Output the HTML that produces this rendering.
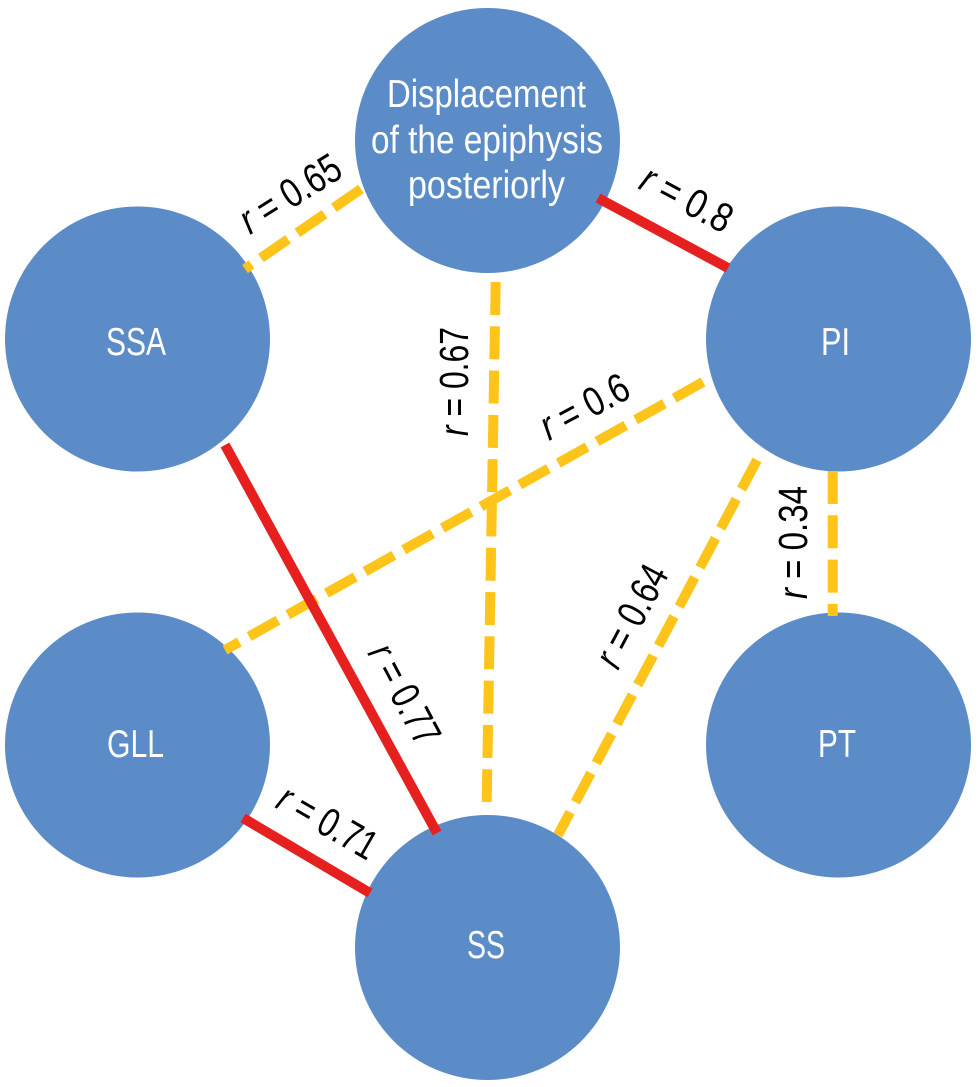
<!DOCTYPE html>
<html>
<head>
<meta charset="utf-8">
<style>
html,body{margin:0;padding:0;background:#fff;}
svg{display:block;}
text{font-family:"Liberation Sans",sans-serif;font-size:39px;}
.w{fill:#fff;}
.k{fill:#000;font-size:41px;}
.i{font-style:italic;}
</style>
</head>
<body>
<svg width="979" height="1087" viewBox="0 0 979 1087" xmlns="http://www.w3.org/2000/svg">
<rect width="979" height="1087" fill="#fff"/>
<g fill="#5c8cc7">
<circle cx="487.5" cy="140.5" r="132.5"/>
<circle cx="137.5" cy="339" r="132.5"/>
<circle cx="838.5" cy="339" r="132.5"/>
<circle cx="137.5" cy="745" r="132.5"/>
<circle cx="838.5" cy="745" r="132.5"/>
<circle cx="487.5" cy="947.5" r="132.5"/>
</g>
<g fill="none" stroke-width="10">
<g stroke="#fec41a" stroke-dasharray="33 11.3">
<line x1="361" y1="189" x2="245" y2="269"/>
<line x1="495.7" y1="282" x2="486.7" y2="802"/>
<line x1="703" y1="382" x2="225" y2="650"/>
<line x1="757" y1="460" x2="558" y2="835"/>
<line x1="832.7" y1="471" x2="832.7" y2="616"/>
</g>
<g stroke="#e5201f">
<line x1="598" y1="198" x2="728" y2="268"/>
<line x1="225" y1="445" x2="437" y2="833"/>
<line x1="243" y1="818" x2="370" y2="893"/>
</g>
</g>
<text class="w" x="387" y="107" textLength="199" lengthAdjust="spacingAndGlyphs">Displacement</text>
<text class="w" x="371" y="153" textLength="232" lengthAdjust="spacingAndGlyphs">of the epiphysis</text>
<text class="w" x="408" y="198" textLength="157" lengthAdjust="spacingAndGlyphs">posteriorly</text>
<text class="w" x="106" y="355" textLength="60" lengthAdjust="spacingAndGlyphs">SSA</text>
<text class="w" x="821" y="355" textLength="29" lengthAdjust="spacingAndGlyphs">PI</text>
<text class="w" x="107" y="757" textLength="57" lengthAdjust="spacingAndGlyphs">GLL</text>
<text class="w" x="818" y="757" textLength="38" lengthAdjust="spacingAndGlyphs">PT</text>
<text class="w" x="467" y="958" textLength="38" lengthAdjust="spacingAndGlyphs">SS</text>
<text class="k" transform="translate(250,235) rotate(-32)" textLength="112" lengthAdjust="spacingAndGlyphs"><tspan class="i">r</tspan> = 0.65</text>
<text class="k" transform="translate(637,188) rotate(28)" textLength="98" lengthAdjust="spacingAndGlyphs"><tspan class="i">r</tspan> = 0.8</text>
<text class="k" transform="translate(468,436) rotate(-90)" textLength="109" lengthAdjust="spacingAndGlyphs"><tspan class="i">r</tspan> = 0.67</text>
<text class="k" transform="translate(549,441) rotate(-28)" textLength="95" lengthAdjust="spacingAndGlyphs"><tspan class="i">r</tspan> = 0.6</text>
<text class="k" transform="translate(807,599) rotate(-90)" textLength="113" lengthAdjust="spacingAndGlyphs"><tspan class="i">r</tspan> = 0.34</text>
<text class="k" transform="translate(618,671) rotate(-62)" textLength="110" lengthAdjust="spacingAndGlyphs"><tspan class="i">r</tspan> = 0.64</text>
<text class="k" transform="translate(367,653) rotate(62)" textLength="108" lengthAdjust="spacingAndGlyphs"><tspan class="i">r</tspan> = 0.77</text>
<text class="k" transform="translate(274,807) rotate(30)" textLength="108" lengthAdjust="spacingAndGlyphs"><tspan class="i">r</tspan> = 0.71</text>
</svg>
</body>
</html>
